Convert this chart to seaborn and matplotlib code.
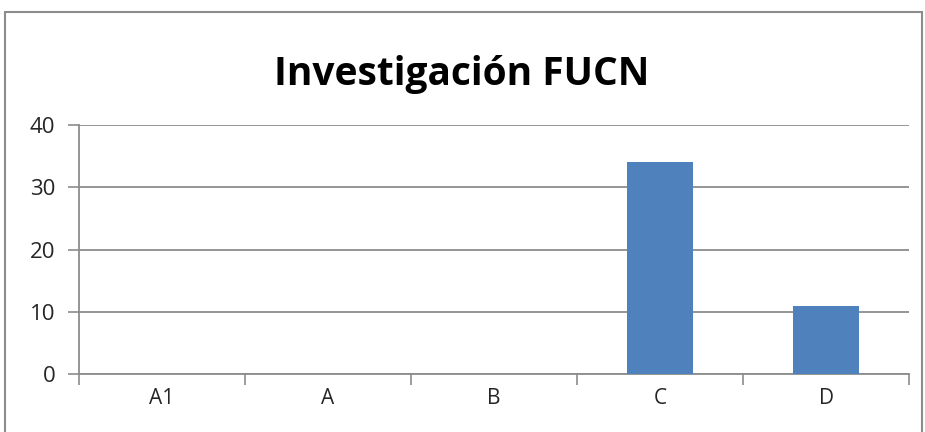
import matplotlib
matplotlib.use("Agg")
import matplotlib.pyplot as plt
import pandas as pd
import seaborn as sns
from matplotlib.patches import Rectangle

categories = ["A1", "A", "B", "C", "D"]
values = [0, 0, 0, 34, 11]
title = "Investigación FUCN"
y_ticks = [0, 10, 20, 30, 40]

df = pd.DataFrame({"categoria": categories, "valor": values})

sns.set_style("white")
plt.rcParams["font.family"] = ["Open Sans", "DejaVu Sans"]

fig = plt.figure(figsize=(9.25, 4.32), dpi=100)
ax = fig.add_axes([79 / 925, 1 - 374 / 432, 830 / 925, 249 / 432])

sns.barplot(data=df, x="categoria", y="valor", color="#4F81BD",
            width=0.4, saturation=1, linewidth=0, ax=ax, zorder=3)

ax.set_ylim(0, 40)
ax.set_xlim(-0.5, len(categories) - 0.5)
ax.set_yticks(y_ticks)
ax.set_yticklabels([str(t) for t in y_ticks], fontsize=16)
ax.set_xlabel("")
ax.set_ylabel("")
ax.tick_params(axis="x", labelsize=15, length=0, pad=10)
ax.tick_params(axis="y", length=8, width=1.2, color="#8c8c8c", pad=9, left=True)

# tick marks between categories on the x axis
ax.set_xticks([i + 0.5 for i in range(-1, len(categories))], minor=True)
ax.tick_params(axis="x", which="minor", length=8, width=1.2, color="#8c8c8c", bottom=True)

ax.grid(axis="y", color="#8c8c8c", linewidth=1.3, zorder=0)
for side in ["top", "right"]:
    ax.spines[side].set_visible(False)
for side in ["left", "bottom"]:
    ax.spines[side].set_color("#8c8c8c")
    ax.spines[side].set_linewidth(1.3)

fig.text(462 / 925, 1 - 74 / 432, title, ha="center", va="center",
         fontsize=28, fontweight="bold", color="black")

fig.patches.append(Rectangle((5 / 925, -0.01), 917 / 925, 1 - 12 / 432 + 0.01,
                             transform=fig.transFigure, fill=False,
                             edgecolor="#8c8c8c", linewidth=1.5))

fig.savefig("out.png", dpi=100)
